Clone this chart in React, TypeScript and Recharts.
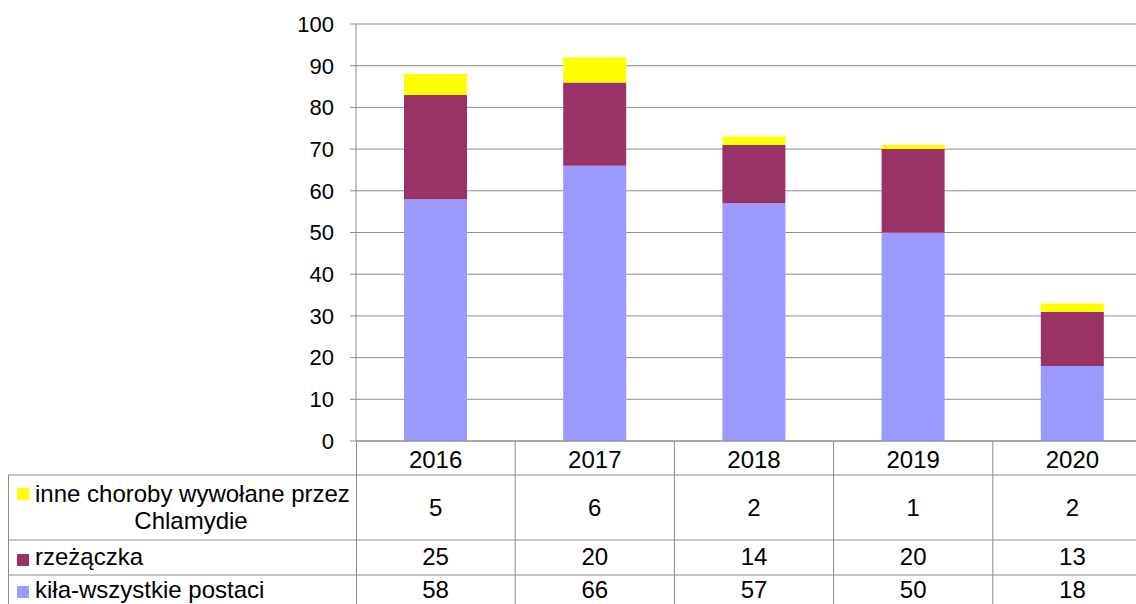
import React from "react";
import { BarChart, Bar, XAxis, YAxis, CartesianGrid } from "recharts";

const years = ["2016", "2017", "2018", "2019", "2020"];
const kila = [58, 66, 57, 50, 18];
const rzezaczka = [25, 20, 14, 20, 13];
const inne = [5, 6, 2, 1, 2];
const yTicks = [0, 10, 20, 30, 40, 50, 60, 70, 80, 90, 100];

const data = years.map((year, i) => ({
  year,
  kila: kila[i],
  rzezaczka: rzezaczka[i],
  inne: inne[i],
}));

const FONT = "Arial, 'Liberation Sans', sans-serif";
const FS = 24;
const LINE = "#8c8c8c";
const W = 1152;
const H = 604;
const PLOT_LEFT = 356;
const PLOT_TOP = 24;
const AXIS_Y = 441;
const BAND = (W - PLOT_LEFT) / years.length;

// table rows below the axis (top → bottom); base = text baseline, box = legend square top
const rows = [
  { label: ["inne choroby wywołane przez", "Chlamydie"], color: "#FFFF00", values: inne, base: 516, box: 488 },
  { label: ["rzeżączka"], color: "#993366", values: rzezaczka, base: 565, box: 554 },
  { label: ["kiła-wszystkie postaci"], color: "#9999FF", values: kila, base: 598, box: 586 },
];
const rowLines = [475, 540, 575];

const T = (p: any) => <text fontFamily={FONT} fontSize={FS} fill="#000" {...p} />;

function TableTick(props: any) {
  const { x, payload } = props;
  const i = payload.index;
  const left = x - BAND / 2;
  const right = x + BAND / 2;
  return (
    <g>
      {i === 0 && (
        <g>
          {rowLines.map((y) => (
            <line key={y} x1={8} y1={y} x2={W} y2={y} stroke={LINE} />
          ))}
          <line x1={8.5} y1={475} x2={8.5} y2={H} stroke={LINE} />
          {rows.map((r, k) => (
            <g key={k}>
              <rect x={17} y={r.box} width={12} height={12} fill={r.color} />
              {r.label.length > 1 ? (
                <>
                  <T x={35} y={502}>{r.label[0]}</T>
                  <T x={191} y={529} textAnchor="middle">{r.label[1]}</T>
                </>
              ) : (
                <T x={35} y={r.base}>{r.label[0]}</T>
              )}
            </g>
          ))}
          <line x1={left + 0.5} y1={AXIS_Y} x2={left + 0.5} y2={H} stroke={LINE} />
        </g>
      )}
      <line x1={right} y1={AXIS_Y} x2={right} y2={H} stroke={LINE} />
      <T x={x} y={468} textAnchor="middle">{payload.value}</T>
      {rows.map((r, k) => (
        <T key={k} x={x} y={r.base} textAnchor="middle">
          {r.values[i]}
        </T>
      ))}
    </g>
  );
}

export default function App() {
  return (
    <div style={{ position: "fixed", left: 0, top: 0, width: 1136, height: 604, overflow: "hidden", background: "#fff" }}>
      <BarChart width={W} height={H} data={data} margin={{ top: PLOT_TOP, right: 0, left: 0, bottom: 0 }} barSize={63}>
        <CartesianGrid vertical={false} stroke={LINE} />
        <XAxis
          dataKey="year"
          height={H - AXIS_Y}
          axisLine={{ stroke: LINE }}
          tickLine={false}
          tick={<TableTick />}
          interval={0}
        />
        <YAxis
          width={PLOT_LEFT}
          domain={[0, 100]}
          ticks={yTicks}
          interval={0}
          axisLine={{ stroke: LINE }}
          tickLine={{ stroke: LINE }}
          tickSize={6}
          tickMargin={16}
          tick={{ fill: "#000", fontSize: 22, fontFamily: FONT }}
        />
        <Bar dataKey="kila" stackId="a" fill="#9999FF" isAnimationActive={false} />
        <Bar dataKey="rzezaczka" stackId="a" fill="#993366" isAnimationActive={false} />
        <Bar dataKey="inne" stackId="a" fill="#FFFF00" isAnimationActive={false} />
      </BarChart>
    </div>
  );
}
